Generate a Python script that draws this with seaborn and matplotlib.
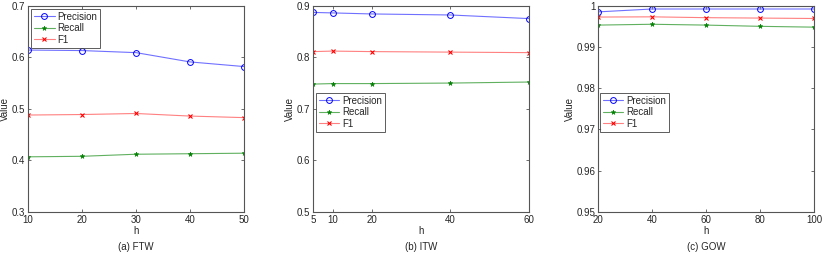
import pandas as pd
import matplotlib
matplotlib.use("Agg")
import matplotlib.pyplot as plt
import seaborn as sns

# h values per dataset
h_ftw = [10, 20, 30, 40, 50]
h_itw = [5, 10, 20, 40, 60]
h_gow = [20, 40, 60, 80, 100]

# FTW
prec_ftw = [0.614, 0.613, 0.609, 0.591, 0.582]
rec_ftw = [0.407, 0.408, 0.412, 0.413, 0.414]
f1_ftw = [0.488, 0.489, 0.491, 0.486, 0.483]

# ITW
prec_itw = [0.887, 0.886, 0.884, 0.882, 0.875]
rec_itw = [0.748, 0.749, 0.749, 0.750, 0.752]
f1_itw = [0.811, 0.812, 0.811, 0.810, 0.809]

# GOW
prec_gow = [0.9985, 0.9992, 0.9992, 0.9992, 0.9992]
rec_gow = [0.9953, 0.9955, 0.9953, 0.9950, 0.9948]
f1_gow = [0.99725, 0.9973, 0.9971, 0.9970, 0.9969]

captions = ['(a) FTW', '(b) ITW', '(c) GOW']
ylims = [(0.3, 0.7), (0.5, 0.9), (0.95, 1.0)]
yticks = [[0.3, 0.4, 0.5, 0.6, 0.7],
          [0.5, 0.6, 0.7, 0.8, 0.9],
          [0.95, 0.96, 0.97, 0.98, 0.99, 1.0]]
ytick_labels = [['0.3', '0.4', '0.5', '0.6', '0.7'],
                ['0.5', '0.6', '0.7', '0.8', '0.9'],
                ['0.95', '0.96', '0.97', '0.98', '0.99', '1']]

sns.set_theme(style='ticks')
plt.rcParams['font.family'] = ['Liberation Sans', 'DejaVu Sans']
plt.rcParams['font.size'] = 7

panels = [
    (h_ftw, prec_ftw, rec_ftw, f1_ftw),
    (h_itw, prec_itw, rec_itw, f1_itw),
    (h_gow, prec_gow, rec_gow, f1_gow),
]

fig = plt.figure(figsize=(8.22, 2.54), dpi=100)
W, H = 822, 254
lefts = [28, 313, 598]
ax_w, ax_top, ax_bot = 216, 5.7, 212
legend_locs = [(0.015, 0.985), (0.014, 0.578), (0.01, 0.578)]
ylabel_x = [-0.085, -0.085, -0.108]

for i, (h, p, r, f) in enumerate(panels):
    ax = fig.add_axes([lefts[i] / W, 1 - ax_bot / H, ax_w / W, (ax_bot - ax_top) / H])
    sns.lineplot(x=h, y=p, ax=ax, color='#7070ff', marker='o', markersize=4.2,
                 markerfacecolor='none', markeredgecolor='blue', markeredgewidth=0.7,
                 lw=0.8, label='Precision')
    sns.lineplot(x=h, y=r, ax=ax, color='#60b060', marker='*', markersize=3.5,
                 markerfacecolor='green', markeredgecolor='green', markeredgewidth=0.4,
                 lw=0.8, label='Recall')
    sns.lineplot(x=h, y=f, ax=ax, color='#ff8080', marker='x', markersize=3,
                 markeredgecolor='red', markeredgewidth=0.8, lw=0.8, label='F1')

    ax.set_xlim(h[0], h[-1])
    ax.set_xticks(h)
    ax.set_xticklabels([str(v) for v in h])
    ax.set_ylim(*ylims[i])
    ax.set_yticks(yticks[i])
    ax.set_yticklabels(ytick_labels[i])
    ax.tick_params(direction='in', top=True, right=True, length=2.5, width=0.5,
                   labelsize=7, pad=2, color='#333333')
    for s in ax.spines.values():
        s.set_linewidth(0.8)
        s.set_color('#555555')
    ax.set_xlabel('h', fontsize=7)
    ax.set_ylabel('Value', fontsize=7)
    ax.yaxis.set_label_coords(ylabel_x[i], 0.5)
    ax.xaxis.set_label_coords(0.5, -0.068)

    leg = ax.legend(loc='upper left', bbox_to_anchor=legend_locs[i], fontsize=7,
                    frameon=True, fancybox=False, handlelength=2.1,
                    borderpad=0.3, labelspacing=0.15, handletextpad=0.25,
                    borderaxespad=0)
    leg.get_frame().set_edgecolor('#333333')
    leg.get_frame().set_linewidth(0.7)

    fig.text((lefts[i] + ax_w / 2) / W, 1 - 247 / H, captions[i],
             ha='center', va='center', fontsize=7)

fig.savefig('out.png', dpi=100)
